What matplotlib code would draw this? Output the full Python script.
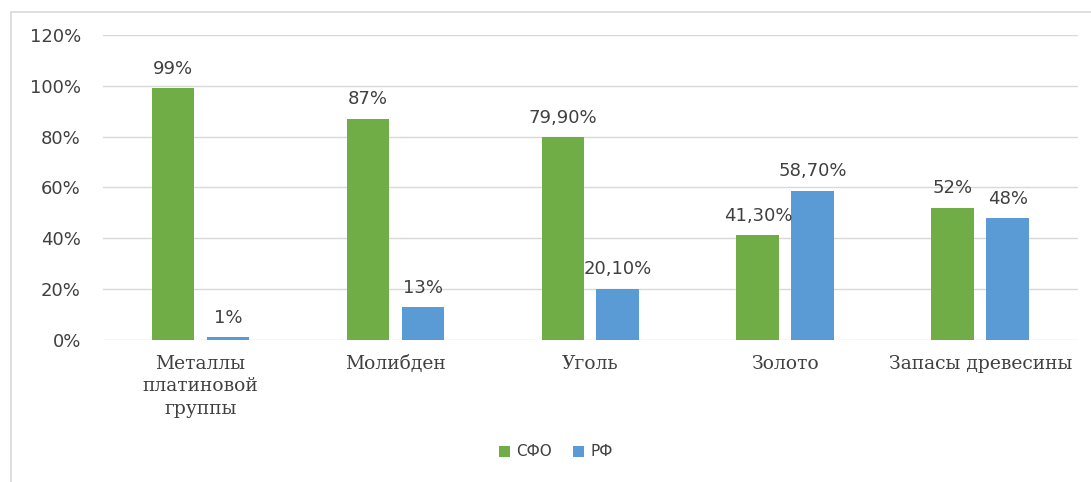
import numpy as np
import matplotlib.pyplot as plt
from matplotlib.patches import Rectangle

categories = ["Металлы\nплатиновой\nгруппы", "Молибден", "Уголь", "Золото", "Запасы древесины"]
sfo = [99, 87, 79.9, 41.3, 52]
rf = [1, 13, 20.1, 58.7, 48]
sfo_labels = ["99%", "87%", "79,90%", "41,30%", "52%"]
rf_labels = ["1%", "13%", "20,10%", "58,70%", "48%"]
yticks = [0, 20, 40, 60, 80, 100, 120]

green = "#70AD47"
blue = "#5B9BD5"

fig = plt.figure(figsize=(10.91, 4.82), dpi=100)
ax = fig.add_axes([0.0944, 0.2946, 0.8936, 0.6328])

# outer chart frame (partly cut off at right and bottom)
fig.patches.append(Rectangle((11 / 1091, -0.1), 1.2, 1 - 12 / 482 + 0.1,
                             transform=fig.transFigure, fill=False,
                             edgecolor="#D9D9D9", linewidth=1.2))

x = np.arange(len(categories))
w = 0.22
off = 0.141
b1 = ax.bar(x - off, sfo, w, color=green, label="СФО")
b2 = ax.bar(x + off, rf, w, color=blue, label="РФ")

for bars, labels in ((b1, sfo_labels), (b2, rf_labels)):
    for bar, lab in zip(bars, labels):
        ax.annotate(lab, (bar.get_x() + bar.get_width() / 2, bar.get_height()),
                    xytext=(0, 7.5), textcoords="offset points",
                    ha="center", va="bottom", fontsize=13, color="#404040",
                    family="DejaVu Sans")

ax.set_ylim(0, 120)
ax.set_xlim(-0.5, len(categories) - 0.5)
ax.set_yticks(yticks)
ax.set_yticklabels([f"{t}%" for t in yticks], fontsize=13, color="#404040")
ax.set_xticks(x)
ax.set_xticklabels(categories, fontsize=13.5, color="#404040",
                   family="DejaVu Serif", linespacing=1.3)
ax.tick_params(axis="both", length=0)
ax.tick_params(axis="y", pad=16)
ax.tick_params(axis="x", pad=11)
ax.grid(axis="y", color="#D9D9D9", linewidth=1)
ax.set_axisbelow(True)
for s in ax.spines.values():
    s.set_visible(False)

fig.legend(handles=[b1, b2], loc="center", bbox_to_anchor=(556 / 1091, 1 - 452 / 482),
           ncol=2, frameon=False, fontsize=11, handlelength=0.7, handleheight=0.7,
           handletextpad=0.4, columnspacing=1.4, labelcolor="#404040")

fig.savefig("out.png", dpi=100)
